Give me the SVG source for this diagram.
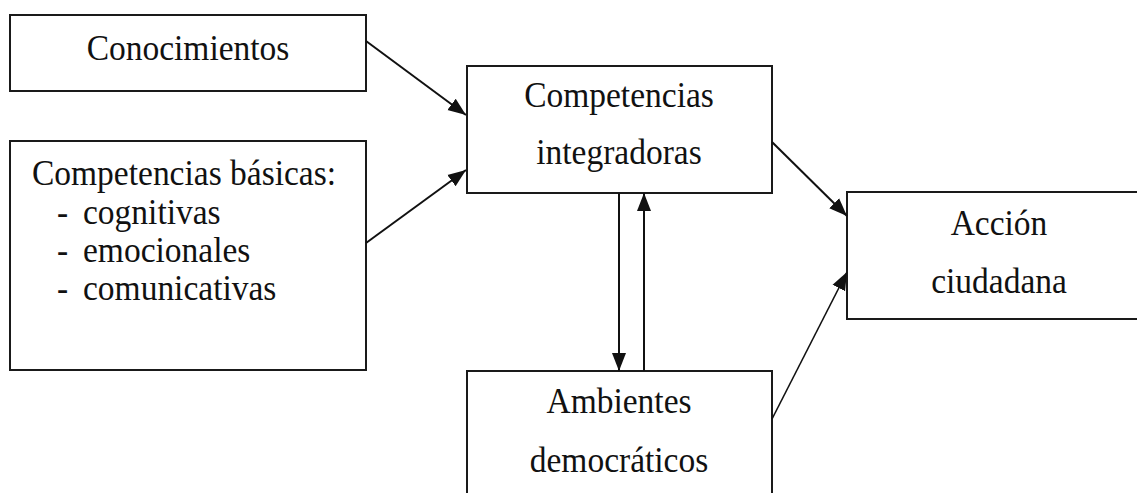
<svg xmlns="http://www.w3.org/2000/svg" width="1137" height="493" viewBox="0 0 1137 493">
<style>
.box{fill:#fff;stroke:#1a1a1a;stroke-width:2}
.t{font-family:"Liberation Serif","Times New Roman",serif;font-size:33.5px;fill:#111}
.c{text-anchor:middle}
.edge{stroke:#111;stroke-width:2;fill:none}
.thin{stroke-width:1.6}
</style>
<defs>
<marker id="ah" markerUnits="userSpaceOnUse" markerWidth="20" markerHeight="16" refX="18" refY="8" orient="auto">
<path d="M0,1 L18,8 L0,15 Z" fill="#111"/>
</marker>
</defs>
<rect width="1137" height="493" fill="#fff"/>
<g id="conocimientos">
<rect class="box" x="10" y="15" width="356" height="76"/>
<text class="t c" transform="translate(188,59.5) scale(1,1.09)">Conocimientos</text>
</g>
<g id="basicas">
<rect class="box" x="10" y="141" width="356" height="229"/>
<text class="t" transform="translate(32,185) scale(1,1.06)">Competencias básicas:</text>
<text class="t" transform="translate(57,224) scale(1,1.06)">-</text>
<text class="t" transform="translate(83,224) scale(1,1.06)">cognitivas</text>
<text class="t" transform="translate(57,262) scale(1,1.06)">-</text>
<text class="t" transform="translate(83,262) scale(1,1.06)">emocionales</text>
<text class="t" transform="translate(57,300) scale(1,1.06)">-</text>
<text class="t" transform="translate(83,300) scale(1,1.06)">comunicativas</text>
</g>
<g id="integradoras">
<rect class="box" x="467" y="66" width="305" height="127"/>
<text class="t c" transform="translate(619,107) scale(1,1.09)">Competencias</text>
<text class="t c" transform="translate(619,164) scale(1,1.09)">integradoras</text>
</g>
<g id="ambientes">
<rect class="box" x="467" y="371" width="305" height="140"/>
<text class="t c" transform="translate(619,413) scale(1,1.09)">Ambientes</text>
<text class="t c" transform="translate(619,472) scale(1,1.09)">democráticos</text>
</g>
<g id="accion">
<rect class="box" x="847" y="192" width="300" height="127"/>
<text class="t c" transform="translate(999,235) scale(1,1.09)">Acción</text>
<text class="t c" transform="translate(999,293) scale(1,1.09)">ciudadana</text>
</g>
<g id="connectors">
<line class="edge" x1="366" y1="41" x2="466" y2="115" marker-end="url(#ah)"/>
<line class="edge" x1="366" y1="243" x2="466" y2="170" marker-end="url(#ah)"/>
<line class="edge" x1="619" y1="193" x2="619" y2="371" marker-end="url(#ah)"/>
<line class="edge" x1="644" y1="371" x2="644" y2="193" marker-end="url(#ah)"/>
<line class="edge" x1="772" y1="142" x2="847" y2="216" marker-end="url(#ah)"/>
<line class="edge thin" x1="772" y1="419" x2="847" y2="272" marker-end="url(#ah)"/>
</g>
</svg>
